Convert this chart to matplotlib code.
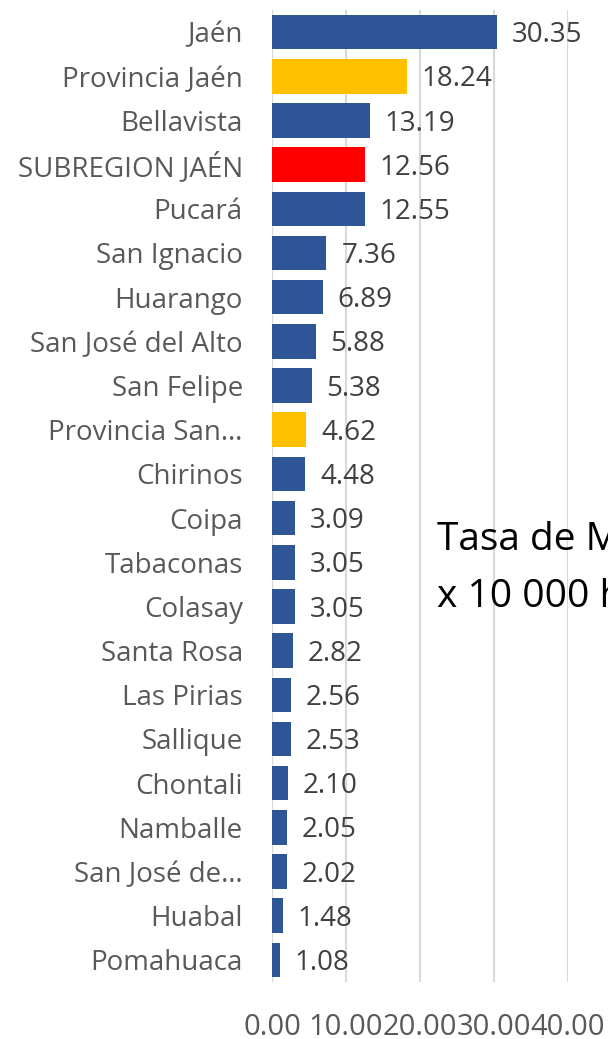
import numpy as np
import matplotlib.pyplot as plt

# data
distritos = ['Jaén', 'Provincia Jaén', 'Bellavista', 'SUBREGION JAÉN', 'Pucará',
             'San Ignacio', 'Huarango', 'San José del Alto', 'San Felipe',
             'Provincia San…', 'Chirinos', 'Coipa', 'Tabaconas', 'Colasay',
             'Santa Rosa', 'Las Pirias', 'Sallique', 'Chontali', 'Namballe',
             'San José de…', 'Huabal', 'Pomahuaca']
tasas = [30.35, 18.24, 13.19, 12.56, 12.55, 7.36, 6.89, 5.88, 5.38, 4.62, 4.48,
         3.09, 3.05, 3.05, 2.82, 2.56, 2.53, 2.10, 2.05, 2.02, 1.48, 1.08]
tipo = ['d', 'p', 'd', 's', 'd', 'd', 'd', 'd', 'd', 'p', 'd',
        'd', 'd', 'd', 'd', 'd', 'd', 'd', 'd', 'd', 'd', 'd']
ticks = [0, 10, 20, 30, 40]

colores = {'d': '#2F5597', 'p': '#FFC000', 's': '#FF0000'}
plt.rcParams['font.family'] = ['Open Sans', 'DejaVu Sans']

fig = plt.figure(figsize=(6.08, 10.39), dpi=100)
ax = fig.add_axes([272/608, 1 - 982/1039, (568-272)/608, 972/1039])

y = np.arange(len(distritos))
ax.barh(y, tasas, height=0.78, color=[colores[t] for t in tipo], zorder=3)
for yi, v in zip(y, tasas):
    ax.text(v + 2.0, yi + 0.07, f'{v:.2f}', va='center', ha='left', fontsize=20,
            color='#404040', zorder=4)

ax.set_ylim(len(distritos) - 0.5, -0.5)
ax.set_xlim(0, 40)
ax.set_yticks(y)
ax.set_yticklabels(distritos, fontsize=20, color='#595959')
ax.set_xticks(ticks)
ax.set_xticklabels([f'{t:.2f}' for t in ticks], fontsize=21, color='#595959')
ax.tick_params(axis='both', length=0)
ax.tick_params(axis='y', pad=21)
ax.tick_params(axis='x', pad=22)
ax.xaxis.grid(True, color='#d9d9d9', linewidth=1.5, zorder=0)
for s in ax.spines.values():
    s.set_visible(False)
ax.axvline(0, color='#d9d9d9', linewidth=1.5, zorder=1)

fig.text(437/608, 1 - 550/1039, 'Tasa de Mortalidad', fontsize=28, color='black',
         va='baseline', ha='left')
fig.text(437/608, 1 - 607/1039, 'x 10 000 hab.', fontsize=28, color='black',
         va='baseline', ha='left')

fig.savefig('out.png', dpi=100)
